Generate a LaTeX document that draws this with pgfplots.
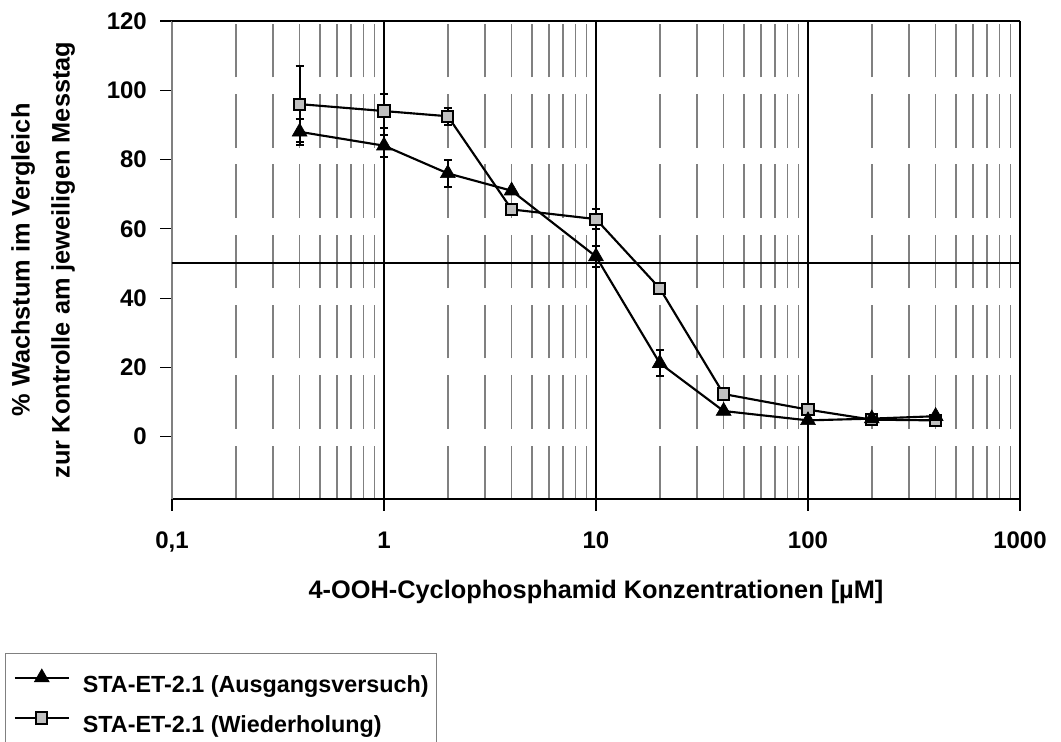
\documentclass[border=0pt]{standalone}
\usepackage{fontspec}
\setmainfont{Liberation Sans}
\usepackage{pgfplots}
\usepackage{pgfplotstable}
\pgfplotsset{compat=1.18}
\definecolor{silver}{HTML}{C0C0C0}
\definecolor{gridgray}{HTML}{808080}
\newcommand{\f}{\fontsize{18}{24}\selectfont\bfseries}
\newcommand{\ft}{\fontsize{19}{25}\selectfont\bfseries}
\newcommand{\fl}{\fontsize{17.5}{22}\selectfont\bfseries}

\pgfplotstableread{
x y e
0.4 88 3.7
1 84 3.2
2 76 4
4 71 0
10 52 3.1
20 21.2 3.7
40 7.4 0
100 4.7 0
200 5.2 0
400 5.9 0
}\tabA

\pgfplotstableread{
x y e
0.4 96 10.9
1 94 4.8
2 92.5 2.4
4 65.6 0
10 62.8 2.9
20 42.8 0
40 12.3 0
100 7.8 0
200 4.9 0
400 4.7 0
}\tabW

\begin{document}
\begin{tikzpicture}
\useasboundingbox (0,0) rectangle (795.75pt,556.5pt);
\begin{axis}[
  at={(129pt,182.25pt)}, anchor=south west,
  scale only axis, width=636pt, height=358.5pt,
  xmode=log, xmin=0.1, xmax=1000, ymin=-18, ymax=120,
  axis x line*=bottom, axis y line*=left,
  x axis line style={black, line width=1.5pt, -},
  y axis line style={gridgray, line width=1pt, -},
  xtick={0.1,1,10,100,1000}, xticklabels={{0,1},1,10,100,1000},
  ytick={0,20,40,60,80,100,120},
  minor xtick={0.2,0.3,0.4,0.5,0.6,0.7,0.8,0.9,2,3,4,5,6,7,8,9,20,30,40,50,60,70,80,90,200,300,400,500,600,700,800,900},
  xminorgrids=true,
  minor x grid style={gridgray, line width=1.1pt, dash pattern=on 40.1pt off 12.6pt},
  minor tick length=0pt,
  tick align=outside,
  major tick length=9pt,
  xtick style={black, line width=1.5pt},
  ytick style={black, line width=0.8pt},
  extra x ticks={1,10,100,1000}, extra x tick labels={},
  extra x tick style={xmajorgrids=true, major x grid style={black, line width=1.5pt}, major tick length=0pt},
  extra y ticks={50,120}, extra y tick labels={},
  extra y tick style={ymajorgrids=true, major y grid style={black, line width=1.5pt}, major tick length=0pt},
  tick label style={font=\f},
  /pgf/number format/assume math mode=true,
  xticklabel style={inner sep=0pt, anchor=north},
  yticklabel style={inner sep=0pt, anchor=east},
  xticklabel shift=15.5pt,
  yticklabel shift=9.75pt,
  xlabel={4-OOH-Cyclophosphamid Konzentrationen [µM]},
  xlabel style={at={(axis description cs:0.5,0)}, anchor=base, yshift=-75pt, font=\ft, inner sep=0pt},
  ylabel={\% Wachstum im Vergleich\\[5pt]zur Kontrolle am jeweiligen Messtag},
  ylabel style={at={(axis description cs:-0.152,0.5)}, anchor=center, align=center, font=\ft, inner sep=0pt},
  legend cell align=left,
  reverse legend,
  legend image code/.code={\draw[mark repeat=2,mark phase=2,#1] plot coordinates {(0pt,6.3pt) (20.25pt,6.3pt) (40.5pt,6.3pt)};},
  legend style={at={(axis description cs:-0.19693,-0.32218)}, anchor=north west,
    draw=gridgray, line width=1.1pt, fill=white,
    inner xsep=6pt, inner ysep=11.5pt, row sep=11.5pt, column sep=9.75pt,
    font=\fl, nodes={inner sep=0pt, text height=13pt, text depth=3.5pt}},
]
\addplot[black, line width=1.6pt, mark=square*, mark size=4.2pt,
  mark options={solid, fill=silver, draw=black, line width=1.5pt},
  error bars/.cd, y dir=both, y explicit,
  error bar style={line width=1.5pt, black},
  error mark options={rotate=90, mark size=3pt, line width=1.5pt, black}]
  table[x=x, y=y, y error=e] {\tabW};
\addlegendentry{STA-ET-2.1 (Wiederholung)}
\addplot[black, line width=1.6pt, mark=triangle*, mark size=6.4pt,
  mark options={solid, fill=black, draw=black, line width=0.5pt},
  error bars/.cd, y dir=both, y explicit,
  error bar style={line width=1.5pt, black},
  error mark options={rotate=90, mark size=3pt, line width=1.5pt, black}]
  table[x=x, y=y, y error=e] {\tabA};
\addlegendentry{STA-ET-2.1 (Ausgangsversuch)}
\end{axis}
\end{tikzpicture}
\end{document}
